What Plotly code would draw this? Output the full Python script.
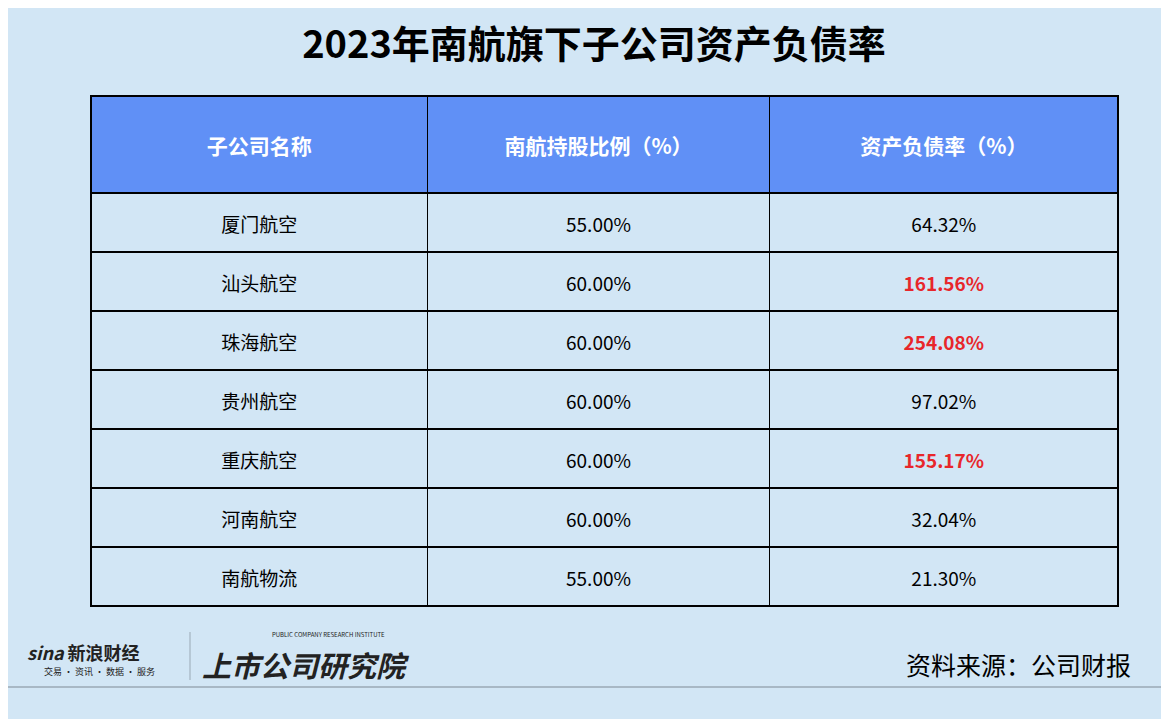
import plotly.graph_objects as go

# 数据
companies = ['厦门航空', '汕头航空', '珠海航空', '贵州航空', '重庆航空', '河南航空', '南航物流']
holding = [55.00, 60.00, 60.00, 60.00, 60.00, 60.00, 55.00]
debt_ratio = [64.32, 161.56, 254.08, 97.02, 155.17, 32.04, 21.30]
headers = ['子公司名称', '南航持股比例（%）', '资产负债率（%）']

bg = '#d2e6f5'
font = 'Noto Sans CJK SC'

# the page adds an 8px body margin, shift everything back by that
OFF = 8
W, H = 1169, 719


def px(x):
    return (x - OFF) / W


def py(y):
    return 1 - (y - OFF) / H


pad_cell = '<span style="font-size:5px"> <br></span>'
pad_head = '<span style="font-size:20px"> <br></span>'

holding_txt = [pad_cell + f'{v:.2f}%' for v in holding]
debt_txt = [pad_cell + (f'<b>{v:.2f}%</b>' if v > 100 else f'{v:.2f}%') for v in debt_ratio]
debt_col = ['#e8262b' if v > 100 else 'black' for v in debt_ratio]

fig = go.Figure(go.Table(
    columnwidth=[336, 342, 348],
    domain=dict(x=[px(91), px(1118)], y=[0, py(96)]),
    header=dict(values=[pad_head + f'<b>{h}</b>' for h in headers],
                fill_color='#6090f6', line=dict(color='black', width=1.3),
                font=dict(color='white', size=21, family=font),
                align='center', height=97),
    cells=dict(values=[[pad_cell + c for c in companies], holding_txt, debt_txt],
               fill_color=bg, line=dict(color='black', width=1.3),
               font=dict(color=[['black'] * 7, ['black'] * 7, debt_col], size=19, family=font),
               align='center', height=59),
))

fig.update_layout(
    width=W, height=H, margin=dict(l=0, r=0, t=0, b=0),
    paper_bgcolor=bg, plot_bgcolor=bg,
    title=dict(text='<b>2023年南航旗下子公司资产负债率</b>', x=px(594), y=py(45),
               xanchor='center', yanchor='middle',
               font=dict(size=38, color='black', family=font)),
    shapes=[dict(type='line', xref='paper', yref='paper', x0=0, x1=1,
                 y0=py(687), y1=py(687), line=dict(color='#9aa9b5', width=1.5)),
            dict(type='line', xref='paper', yref='paper', x0=px(190), x1=px(190),
                 y0=py(680), y1=py(632), line=dict(color='#9aa9b5', width=1))],
    annotations=[
        dict(text='资料来源：公司财报', x=px(1133), y=py(664), xref='paper', yref='paper',
             xanchor='right', yanchor='middle', showarrow=False,
             font=dict(size=25, color='black', family=font)),
        dict(text='<b><i>sina</i></b> <b>新浪财经</b>', x=px(25), y=py(652), xref='paper', yref='paper',
             xanchor='left', yanchor='middle', showarrow=False,
             font=dict(size=18, color='#222', family=font)),
        dict(text='交易 · 资讯 · 数据 · 服务', x=px(42), y=py(671), xref='paper', yref='paper',
             xanchor='left', yanchor='middle', showarrow=False,
             font=dict(size=9, color='#222', family=font)),
        dict(text='<b><i>上市公司研究院</i></b>', x=px(200), y=py(664), xref='paper', yref='paper',
             xanchor='left', yanchor='middle', showarrow=False,
             font=dict(size=29, color='#222', family=font)),
        dict(text='PUBLIC COMPANY RESEARCH INSTITUTE', x=px(270), y=py(634), xref='paper', yref='paper',
             xanchor='left', yanchor='middle', showarrow=False,
             font=dict(size=6, color='#222', family=font)),
    ],
)

fig.write_html('out.html')
